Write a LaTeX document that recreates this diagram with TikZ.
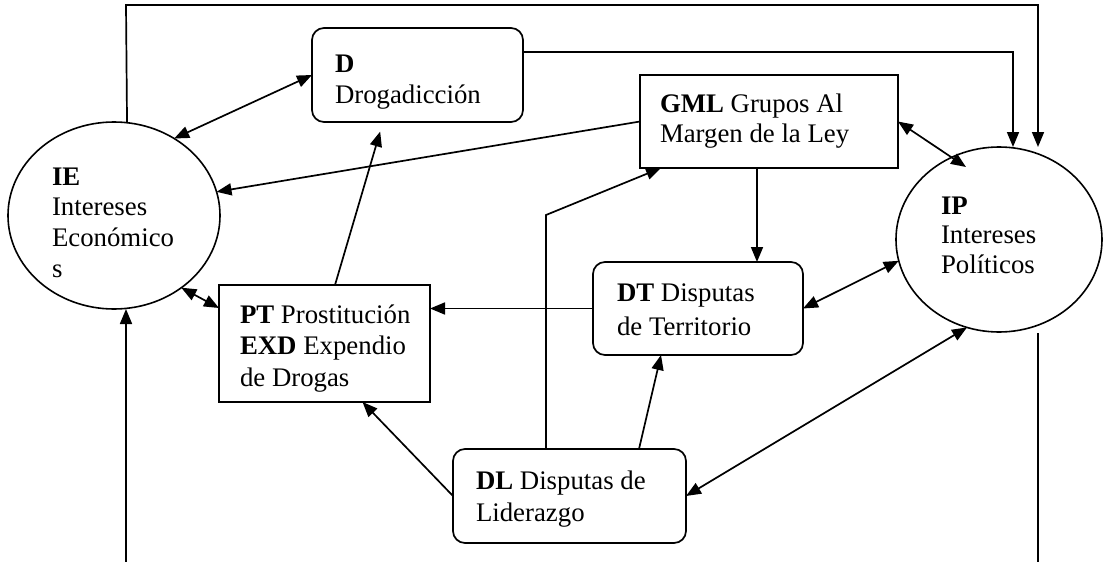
\documentclass[tikz,border=0pt]{standalone}
\usepackage{fontspec}
\setmainfont{Liberation Serif}
\usetikzlibrary{shapes.geometric,arrows.meta,calc}
\newcommand{\blk}[1]{\begin{tabular}[t]{@{}l@{}}#1\end{tabular}}
\begin{document}
\begin{tikzpicture}[x=1pt,y=-1pt,
  every node/.style={inner sep=0pt, outer sep=0pt},
  rbox/.style={draw, rounded corners=12pt, line width=1.7pt},
  sbox/.style={draw, line width=1.7pt},
  oval/.style={draw, ellipse, line width=1.6pt},
  lbl/.style={anchor=base west, font=\fontsize{26.8}{31}\selectfont},
  arr/.style={line width=1.7pt, -{Triangle[length=15pt,width=12pt]}},
  darr/.style={line width=1.7pt, {Triangle[length=15pt,width=12pt]}-{Triangle[length=15pt,width=12pt]}},
  ln/.style={line width=1.5pt}]
\fill[white] (0,0) rectangle (1104,562);
\useasboundingbox (0,0) rectangle (1104,562);

% shapes
\node[oval, minimum width=212pt, minimum height=187pt] (ie) at (114,215.5) {};
\node[oval, minimum width=206pt, minimum height=185pt] (ip) at (999,239.5) {};
\node[rbox, minimum width=211pt, minimum height=94pt] (d) at (417.5,75) {};
\node[sbox, minimum width=258pt, minimum height=93pt] (gml) at (769,121.5) {};
\node[sbox, minimum width=211pt, minimum height=117pt] (pt) at (324.5,343.5) {};
\node[rbox, minimum width=210pt, minimum height=93pt] (dt) at (698,308.5) {};
\node[rbox, minimum width=233pt, minimum height=94pt] (dl) at (569.5,496) {};

% texts
\node[lbl, font=\fontsize{26.8}{30.7}\selectfont] (ietxt) at (52,185) {\blk{\textbf{IE}\\Intereses\\Económico\\s}};
\node[lbl] (dtxt) at (335,72) {\blk{\textbf{D}\\Drogadicción}};
\node[lbl, font=\fontsize{26.8}{30}\selectfont] (gmltxt) at (660,112) {\blk{\textbf{GML} Grupos Al\\Margen de la Ley}};
\node[lbl, font=\fontsize{26.8}{29.5}\selectfont] (iptxt) at (941,214) {\blk{\textbf{IP}\\Intereses\\Políticos}};
\node[lbl, font=\fontsize{26.8}{31.5}\selectfont] (pttxt) at (240,323) {\blk{\textbf{PT} Prostitución\\\textbf{EXD} Expendio\\de Drogas}};
\node[lbl, font=\fontsize{26.8}{34}\selectfont] (dttxt) at (617,301) {\blk{\textbf{DT} Disputas\\de Territorio}};
\node[lbl, font=\fontsize{26.8}{32}\selectfont] (dltxt) at (476,489) {\blk{\textbf{DL} Disputas de\\Liderazgo}};

% free ends and corners
\coordinate (tl) at (126,5);
\coordinate (tr) at (1038,5);
\coordinate (bl) at (126,562);
\coordinate (br) at (1038,562);

% connectors
\draw[arr] (ie.82.7) -- (tl) -- (tr) -- (tr |- ip.north);
\draw[arr] ($(d.east)+(0,-23)$) -| ($(ip.north)+(14,0)$);
\draw[darr] (ie.52) -- (d.west);
\draw[arr] (gml.west) -- (ie.13);
\draw[arr] ($(pt.north west)+(116,0)$) -- ($(d.south west)+(71,0)$) [shorten >=10pt];
\draw[darr] (ie.-47) -- ($(pt.north west)+(0,23)$);
\draw[arr] (bl) -- (bl |- ie.south);
\draw[arr] ($(gml.south)+(-12,0)$) coordinate (g1) -- (g1 |- dt.north);
\draw[arr] (dt.west) -- (dt.west -| pt.east);
\draw[darr] (dt.east) -- (ip.192);
\draw[darr] (gml.east) -- ($(ip.center)+(-33,-72.5)$);
\draw[arr] (dl.west) -- ($(pt.south)+(38,0)$);
\draw[arr] ($(dl.north)+(-23.5,0)$) -- ++(0,-234) -- ($(gml.south west)+(21,0)$);
\draw[arr] ($(dl.north)+(69.5,0)$) -- ($(dt.south)+(-37,0)$);
\draw[darr] (dl.east) -- (ip.-110);
\draw[ln] (br) -- ($(br |- ip.south)+(0,1)$);
\end{tikzpicture}
\end{document}
